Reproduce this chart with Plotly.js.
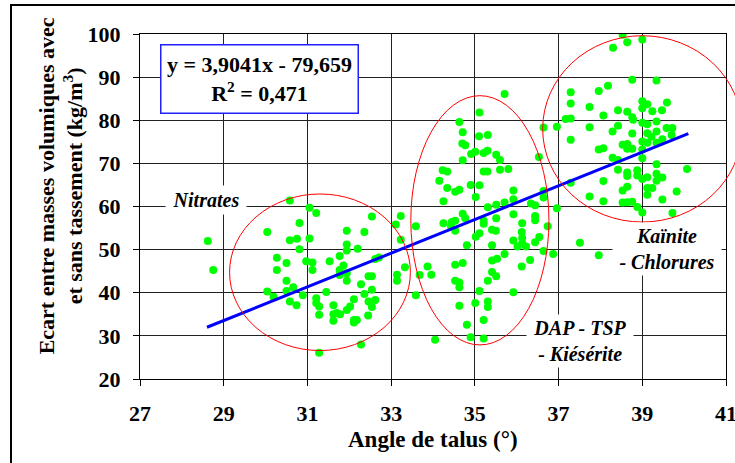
<!DOCTYPE html>
<html>
<head>
<meta charset="utf-8">
<script src="https://cdn.plot.ly/plotly-3.0.1.min.js"></script>
<style>
  html, body { margin: 0; padding: 0; overflow: hidden; background: #fff; }
  #chart { width: 735px; height: 463px; position: absolute; left: 0; top: 0; }
  #frame { position: absolute; left: 10px; top: 4px; width: 760px; height: 500px; border: 2px solid #000; pointer-events: none; }
</style>
</head>
<body>
<div id="chart"></div>
<div id="frame"></div>
<script>
// ---- Data ----
const nitratesX = [28.62,28.75,30.58,31.05,31.21,30.81,30.04,30.58,30.75,31.05,30.81,31.94,32.36,32.54,31.94,31.94,32.20,30.27,30.50,30.97,31.12,31.12,30.27,31.53,31.77,31.86,31.77,31.77,31.94,31.94,30.50,30.66,30.50,30.04,30.19,30.58,30.74,30.89,31.21,31.21,31.28,31.28,31.45,31.62,31.62,31.70,31.62,31.78,31.94,32.02,32.11,32.28,32.36,32.46,32.54,32.54,32.46,32.54,32.62,32.45,32.11,32.18,32.11,32.28,31.28,32.62,32.71,33.11,33.23,33.23,33.33,33.14,33.14];
const nitratesY = [52.0,45.3,61.4,59.7,58.5,56.2,54.1,52.2,52.5,52.6,50.1,54.4,54.1,57.7,51.2,49.8,50.2,48.1,46.9,47.3,47.0,45.3,45.3,47.3,48.5,46.3,45.3,44.1,44.5,42.8,42.8,41.3,40.4,40.3,39.1,38.0,37.1,39.4,38.7,37.6,36.8,34.9,40.2,37.1,35.0,35.3,33.5,35.0,36.0,36.8,38.5,42.0,39.7,43.8,43.8,40.7,38.0,36.7,38.3,34.7,33.7,33.7,33.1,28.0,26.1,47.8,48.2,55.8,57.8,52.3,45.9,44.2,42.8];

const dapX = [35.71,35.11,34.63,34.71,35.10,35.31,34.70,34.77,35.01,34.91,35.21,35.30,35.51,35.60,35.60,35.80,34.71,34.23,34.34,35.21,35.30,34.15,34.34,34.53,34.63,34.90,35.11,35.02,34.25,35.92,35.92,35.71,35.51,35.31,36.34,36.44,36.64,36.64,36.53,36.64,36.96,36.96,33.59,34.25,34.45,34.53,34.43,34.53,34.71,34.77,35.21,35.21,35.51,35.92,36.13,36.44,36.44,36.74,35.41,35.50,36.12,36.13,35.92,36.02,36.13,36.22,36.44,36.54,35.11,35.02,34.81,35.41,36.64,36.87,35.71,35.53,35.41,36.32,36.12,34.53,34.71,35.41,35.51,35.31,34.53,34.63,34.63,35.11,35.92,33.87,33.96,33.68,33.59,34.63,35.01,35.31,35.31,35.21,34.81,34.90,35.21,34.05];
const dapY = [86.1,81.8,79.6,77.2,76.3,76.6,74.6,74.2,72.7,72.2,72.4,72.9,72.0,70.8,68.5,68.7,70.7,68.4,68.1,68.1,68.1,66.0,64.3,63.4,63.9,65.0,64.9,62.2,61.2,63.7,61.7,60.9,60.4,59.8,60.7,60.3,63.6,62.1,71.5,78.3,78.5,59.6,55.4,56.1,56.4,56.7,55.4,54.4,58.3,57.3,56.7,56.0,57.3,58.2,56.1,57.8,56.8,55.4,54.6,54.4,54.1,52.7,52.1,50.7,51.5,50.7,51.7,52.9,53.8,53.0,51.0,51.0,49.7,49.0,49.0,47.9,47.5,47.6,46.1,46.5,46.9,44.8,43.8,42.8,42.8,42.4,41.3,40.4,40.1,46.1,44.2,44.1,39.4,37.0,37.6,38.0,36.7,33.7,32.6,29.7,29.4,29.1];

const kainiteX = [38.53,38.64,39.00,38.30,38.76,39.34,38.18,37.96,37.29,37.29,37.74,38.42,38.64,38.07,39.00,39.12,39.00,39.24,39.47,39.59,38.76,38.78,37.17,37.29,37.74,38.42,38.29,39.00,39.12,39.34,39.58,39.72,39.34,39.12,38.76,37.29,39.22,39.48,39.70,39.00,39.12,39.34,38.53,38.64,38.64,38.76,37.96,38.07,39.00,38.29,38.42,39.00,39.34,38.42,38.64,38.64,38.88,38.88,39.00,39.12,39.34,39.48,39.34,40.07,38.07,37.29,38.64,38.53,39.12,39.24,39.12,39.82,39.48,37.74,38.07,38.53,38.64,38.76,38.88,39.00,39.72,37.51,37.96];
const kainiteY = [99.8,98.1,98.7,96.8,89.4,89.2,88.0,86.8,86.5,83.9,83.1,82.3,82.0,81.1,84.4,83.7,82.8,82.1,82.3,84.1,80.7,80.1,80.3,80.4,78.4,78.7,77.4,79.4,79.1,79.7,78.2,78.2,77.4,77.0,76.9,75.5,76.2,75.6,76.6,75.1,74.8,74.8,74.3,74.5,73.4,73.4,73.2,73.5,73.2,71.3,70.8,71.2,69.8,68.5,67.9,67.1,68.4,67.2,66.4,66.8,67.6,66.7,66.0,68.7,65.9,65.5,64.6,63.7,64.3,64.3,62.7,63.5,61.6,62.3,61.2,60.9,61.0,61.1,59.9,58.6,58.5,51.6,48.7];

// Linear fit shown in the chart
const fitSlope = 3.9041;
const fitIntercept = -79.659;
const fitX = [28.6, 40.1];

const xTicks = [27, 29, 31, 33, 35, 37, 39, 41];
const yTicks = [20, 30, 40, 50, 60, 70, 80, 90, 100];

const groupLabels = ['<b><i>Nitrates</i></b>', '<b><i>DAP - TSP<br>- Kiésérite</i></b>', '<b><i>Kaïnite<br>- Chlorures</i></b>'];
const equationText = '<b>y = 3,9041x - 79,659<br>R<sup>2</sup> = 0,471</b>';
const xTitle = '<b>Angle de talus (°)</b>';
const yTitle = '<b>Ecart entre masses volumiques avec<br>et sans tassement (kg/m<sup>3</sup>)</b>';

// ---- Chart ----
const xRange = [27, 41], yRange = [20, 100];
const serif = "'Liberation Serif', 'Times New Roman', serif";
const ptStyle = { color: '#00ff00', size: 8, line: { width: 0 } };

const traces = [
  { x: nitratesX, y: nitratesY, type: 'scatter', mode: 'markers', marker: ptStyle, hoverinfo: 'x+y' },
  { x: dapX, y: dapY, type: 'scatter', mode: 'markers', marker: ptStyle, hoverinfo: 'x+y' },
  { x: kainiteX, y: kainiteY, type: 'scatter', mode: 'markers', marker: ptStyle, hoverinfo: 'x+y' },
  { x: fitX, y: fitX.map(v => fitSlope * v + fitIntercept), type: 'scatter', mode: 'lines',
    line: { color: '#0000ff', width: 3 }, hoverinfo: 'skip' }
];

// ellipse bounds in data units, converted to paper so they are not clipped
const ellipses = [
  [29.14, 33.46, 26.6, 62.9],
  [33.47, 36.77, 27.9, 85.7],
  [36.62, 41.38, 56.4, 99.6]
];
const px = v => (v - xRange[0]) / (xRange[1] - xRange[0]);
const py = v => (v - yRange[0]) / (yRange[1] - yRange[0]);
const shapes = ellipses.map(e => ({
  type: 'circle', xref: 'paper', yref: 'paper',
  x0: px(e[0]), x1: px(e[1]), y0: py(e[2]), y1: py(e[3]),
  line: { color: '#ff0000', width: 1 }, layer: 'above'
}));

const labelFont = { family: serif, size: 20, color: '#000' };
const C = { xanchor: 'center', yanchor: 'middle', showarrow: false };
const annotations = [
  Object.assign({ x: 28.58, y: 61.4, xref: 'x', yref: 'y', text: groupLabels[0],
    font: labelFont, bgcolor: '#fff', width: 80, height: 28, borderpad: 0 }, C),
  Object.assign({ x: 37.51, y: 28.7, xref: 'x', yref: 'y', text: groupLabels[1],
    font: labelFont, bgcolor: '#fff', width: 106, height: 52, borderpad: 0 }, C),
  Object.assign({ x: 39.59, y: 50.2, xref: 'x', yref: 'y', text: groupLabels[2],
    font: labelFont, bgcolor: '#fff', width: 108, height: 52, borderpad: 0 }, C),
  Object.assign({ x: 0.2034, y: 0.870, xref: 'paper', yref: 'paper', text: equationText,
    font: { family: serif, size: 22, color: '#000' }, bgcolor: '#fff',
    bordercolor: '#2020ff', borderwidth: 1.5, borderpad: 0, width: 196, height: 67 }, C),
  Object.assign({ x: 0.5, y: -0.176, xref: 'paper', yref: 'paper', text: xTitle,
    font: { family: serif, size: 23, color: '#000' } }, C),
  Object.assign({ x: -0.1356, y: 0.56, xref: 'paper', yref: 'paper', text: yTitle,
    textangle: -90, font: { family: serif, size: 22, color: '#000' } }, C)
];

const axisCommon = {
  showgrid: true, gridcolor: '#222', gridwidth: 1,
  showline: true, linecolor: '#000', linewidth: 1, mirror: true,
  ticks: 'outside', ticklen: 6, tickcolor: '#000',
  tickfont: { family: serif, size: 22, color: '#000', weight: 'bold' },
  ticklabeloverflow: 'allow',
  zeroline: false, fixedrange: true
};

const layout = {
  width: 735, height: 463,
  margin: { l: 140, r: 9, t: 34, b: 84 },
  paper_bgcolor: '#fff', plot_bgcolor: '#fff',
  showlegend: false,
  font: { family: serif },
  xaxis: Object.assign({}, axisCommon, { range: xRange, tickvals: xTicks, ticktext: xTicks.map(String), ticklabelstandoff: 9 }),
  yaxis: Object.assign({}, axisCommon, { range: yRange, tickvals: yTicks, ticktext: yTicks.map(String), ticklabelstandoff: 8 }),
  shapes: shapes,
  annotations: annotations
};

Plotly.newPlot('chart', traces, layout, { displayModeBar: false, staticPlot: true });
</script>
</body>
</html>
